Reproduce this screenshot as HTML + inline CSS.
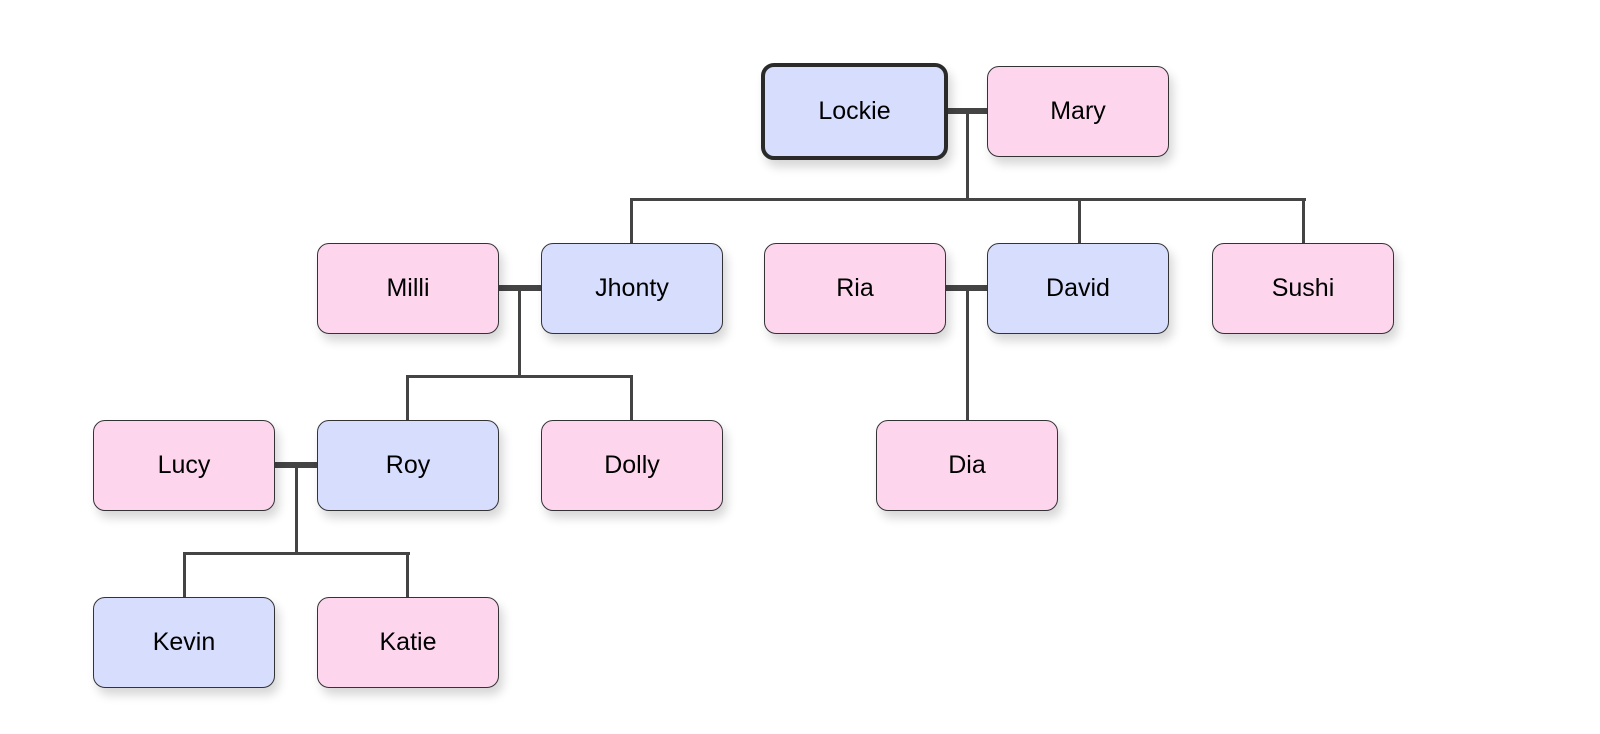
<!DOCTYPE html>
<html><head><style>
body{margin:0;width:1600px;height:734px;background:#fff;position:relative;overflow:hidden;font-family:"Liberation Sans",sans-serif}
.n{position:absolute;width:182px;height:91px;border:1.5px solid #333;border-radius:12px;box-sizing:border-box;display:flex;align-items:center;justify-content:center;font-size:25px;color:#000;box-shadow:4px 7px 10px rgba(0,0,0,0.16);z-index:2}
.b{background:#d6ddfd}.p{background:#fdd6ee}
.l{position:absolute;background:#444;z-index:1}
</style></head><body>
<div class="l" style="left:946px;top:108px;width:44px;height:6px"></div>
<div class="l" style="left:966px;top:111px;width:3px;height:90px"></div>
<div class="l" style="left:630px;top:198px;width:676px;height:3px"></div>
<div class="l" style="left:630px;top:198px;width:3px;height:46px"></div>
<div class="l" style="left:1078px;top:198px;width:3px;height:46px"></div>
<div class="l" style="left:1302px;top:198px;width:3px;height:46px"></div>

<div class="l" style="left:497px;top:285px;width:45px;height:6px"></div>
<div class="l" style="left:518px;top:288px;width:3px;height:90px"></div>
<div class="l" style="left:406px;top:375px;width:227px;height:3px"></div>
<div class="l" style="left:406px;top:375px;width:3px;height:46px"></div>
<div class="l" style="left:630px;top:375px;width:3px;height:46px"></div>

<div class="l" style="left:945px;top:285px;width:45px;height:6px"></div>
<div class="l" style="left:966px;top:288px;width:3px;height:133px"></div>

<div class="l" style="left:274px;top:462px;width:44px;height:6px"></div>
<div class="l" style="left:295px;top:465px;width:3px;height:90px"></div>
<div class="l" style="left:183px;top:552px;width:227px;height:3px"></div>
<div class="l" style="left:183px;top:552px;width:3px;height:46px"></div>
<div class="l" style="left:406px;top:552px;width:3px;height:46px"></div>

<div class="n b" style="left:761px;top:63px;width:187px;height:97px;border:4.5px solid #2a2a2a;border-radius:13px">Lockie</div>
<div class="n p" style="left:987px;top:66px">Mary</div>
<div class="n p" style="left:317px;top:243px">Milli</div>
<div class="n b" style="left:541px;top:243px">Jhonty</div>
<div class="n p" style="left:764px;top:243px">Ria</div>
<div class="n b" style="left:987px;top:243px">David</div>
<div class="n p" style="left:1212px;top:243px">Sushi</div>
<div class="n p" style="left:93px;top:420px">Lucy</div>
<div class="n b" style="left:317px;top:420px">Roy</div>
<div class="n p" style="left:541px;top:420px">Dolly</div>
<div class="n p" style="left:876px;top:420px">Dia</div>
<div class="n b" style="left:93px;top:597px">Kevin</div>
<div class="n p" style="left:317px;top:597px">Katie</div>
</body></html>
